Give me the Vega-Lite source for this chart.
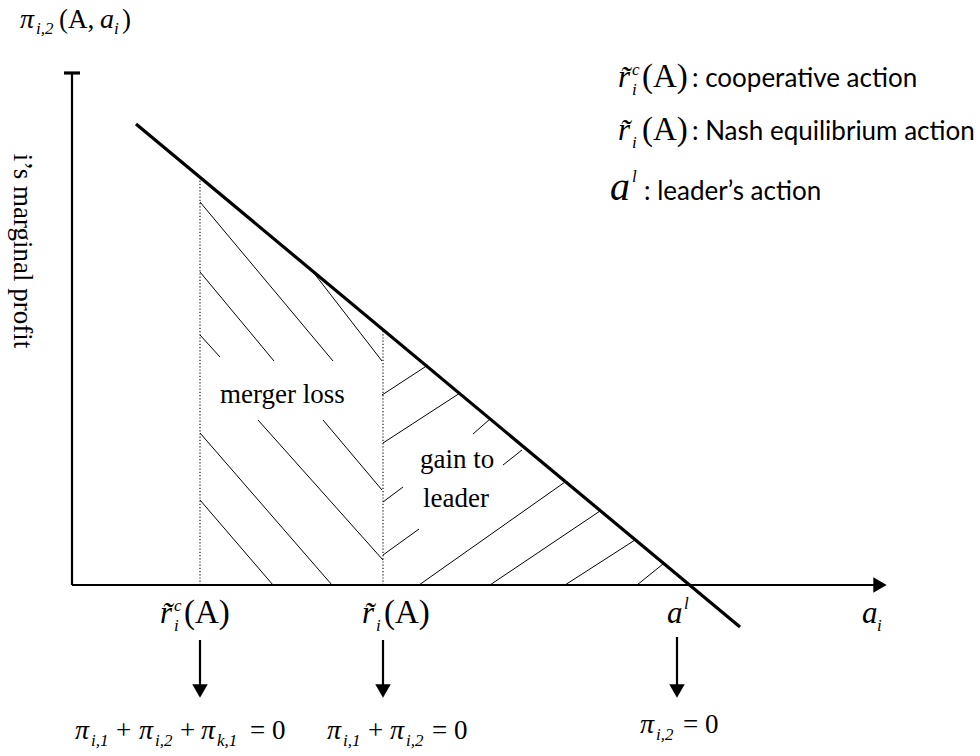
{
  "$schema": "https://vega.github.io/schema/vega-lite/v6.json",
  "width": 980,
  "height": 756,
  "padding": 0,
  "autosize": {"type": "fit", "contains": "padding"},
  "background": "white",
  "config": {"view": {"stroke": null}},
  "datasets": {
    "seg": [
      {"k": "axis", "x": 72, "y": 683, "x2": 72, "y2": 171},
      {"k": "axis", "x": 72, "y": 171, "x2": 878, "y2": 171},
      {"k": "tick", "x": 64, "y": 683, "x2": 80, "y2": 683},
      {"k": "curve", "x": 136, "y": 632, "x2": 740, "y2": 129},
      {"k": "dot", "x": 200, "y": 171, "x2": 200, "y2": 578},
      {"k": "dot", "x": 383, "y": 171, "x2": 383, "y2": 426},
      {"k": "hatch", "x": 310, "y": 488, "x2": 382, "y2": 395},
      {"k": "hatch", "x": 200, "y": 554, "x2": 333, "y2": 395},
      {"k": "hatch", "x": 200, "y": 484, "x2": 274, "y2": 395},
      {"k": "hatch", "x": 323, "y": 336, "x2": 382, "y2": 266},
      {"k": "hatch", "x": 200, "y": 421, "x2": 220, "y2": 399},
      {"k": "hatch", "x": 258, "y": 336, "x2": 383, "y2": 196},
      {"k": "hatch", "x": 200, "y": 323, "x2": 332, "y2": 171},
      {"k": "hatch", "x": 200, "y": 256, "x2": 273, "y2": 171},
      {"k": "hatch", "x": 382, "y": 361, "x2": 428, "y2": 391},
      {"k": "hatch", "x": 383, "y": 313, "x2": 460, "y2": 363},
      {"k": "hatch", "x": 473, "y": 322, "x2": 490, "y2": 337},
      {"k": "hatch", "x": 503, "y": 291, "x2": 522, "y2": 306},
      {"k": "hatch", "x": 383, "y": 254, "x2": 403, "y2": 269},
      {"k": "hatch", "x": 383, "y": 201, "x2": 419, "y2": 227},
      {"k": "hatch", "x": 419, "y": 171, "x2": 565, "y2": 274},
      {"k": "hatch", "x": 490, "y": 171, "x2": 600, "y2": 245},
      {"k": "hatch", "x": 565, "y": 171, "x2": 635, "y2": 216},
      {"k": "hatch", "x": 637, "y": 171, "x2": 663, "y2": 192},
      {"k": "arrow", "x": 200, "y": 116, "x2": 200, "y2": 70},
      {"k": "arrow", "x": 383, "y": 116, "x2": 383, "y2": 70},
      {"k": "arrow", "x": 677, "y": 119, "x2": 677, "y2": 70}
    ],
    "heads": [
      {"d": "right", "x": 880, "y": 171},
      {"d": "down", "x": 200, "y": 65},
      {"d": "down", "x": 383, "y": 65},
      {"d": "down", "x": 677, "y": 65}
    ],
    "txt": [
      {"r": "it", "t": "π", "x": 20, "y": 728},
      {"r": "sub", "t": "i,2", "x": 36, "y": 722},
      {"r": "up", "t": "(A,", "x": 59, "y": 728},
      {"r": "it", "t": "a", "x": 100, "y": 728},
      {"r": "sub", "t": "i", "x": 114, "y": 722},
      {"r": "up", "t": ")", "x": 122, "y": 728},
      {"r": "ylab", "t": "i’s marginal profit", "x": 22, "y": 505},
      {"r": "prose", "t": "merger loss", "x": 220, "y": 353},
      {"r": "prose", "t": "gain to", "x": 420, "y": 288},
      {"r": "prose", "t": "leader", "x": 423, "y": 249},
      {"r": "itL", "t": "r\u0303", "x": 618, "y": 669},
      {"r": "sub", "t": "c", "x": 632, "y": 681},
      {"r": "sub", "t": "i", "x": 632, "y": 661},
      {"r": "upL", "t": "(A)", "x": 642, "y": 669},
      {"r": "sans", "t": ": cooperative action", "x": 692, "y": 669},
      {"r": "itL", "t": "r\u0303", "x": 618, "y": 616},
      {"r": "sub", "t": "i", "x": 632, "y": 608},
      {"r": "upL", "t": "(A)", "x": 642, "y": 616},
      {"r": "sans", "t": ": Nash equilibrium action", "x": 692, "y": 616},
      {"r": "itXL", "t": "a", "x": 610, "y": 556},
      {"r": "sub", "t": "l", "x": 632, "y": 574},
      {"r": "sans", "t": ": leader’s action", "x": 644, "y": 556},
      {"r": "itL", "t": "r\u0303", "x": 160, "y": 133},
      {"r": "sub", "t": "c", "x": 174, "y": 145},
      {"r": "sub", "t": "i", "x": 174, "y": 125},
      {"r": "upL", "t": "(A)", "x": 184, "y": 133},
      {"r": "itL", "t": "r\u0303", "x": 362, "y": 133},
      {"r": "sub", "t": "i", "x": 376, "y": 125},
      {"r": "upL", "t": "(A)", "x": 384, "y": 133},
      {"r": "itL", "t": "a", "x": 667, "y": 133},
      {"r": "sub", "t": "l", "x": 684, "y": 147},
      {"r": "itL", "t": "a", "x": 862, "y": 133},
      {"r": "sub", "t": "i", "x": 877, "y": 125},
      {"r": "it", "t": "π", "x": 75, "y": 17},
      {"r": "sub", "t": "i,1", "x": 91, "y": 10},
      {"r": "up", "t": "+", "x": 116, "y": 17},
      {"r": "it", "t": "π", "x": 139, "y": 17},
      {"r": "sub", "t": "i,2", "x": 155, "y": 10},
      {"r": "up", "t": "+", "x": 180, "y": 17},
      {"r": "it", "t": "π", "x": 201, "y": 17},
      {"r": "sub", "t": "k,1", "x": 217, "y": 10},
      {"r": "up", "t": "= 0", "x": 250, "y": 17},
      {"r": "it", "t": "π", "x": 327, "y": 17},
      {"r": "sub", "t": "i,1", "x": 343, "y": 10},
      {"r": "up", "t": "+", "x": 368, "y": 17},
      {"r": "it", "t": "π", "x": 390, "y": 17},
      {"r": "sub", "t": "i,2", "x": 406, "y": 10},
      {"r": "up", "t": "= 0", "x": 432, "y": 17},
      {"r": "it", "t": "π", "x": 640, "y": 23},
      {"r": "sub", "t": "i,2", "x": 656, "y": 16},
      {"r": "up", "t": "= 0", "x": 683, "y": 23}
    ]
  },
  "layer": [
    {
      "data": {"name": "seg"},
      "transform": [{"filter": "datum.k === 'hatch'"}],
      "mark": {"type": "rule", "color": "black", "strokeWidth": 1},
      "encoding": {
        "x": {"field": "x", "type": "quantitative", "scale": {"domain": [0, 980], "nice": false, "zero": false}, "axis": null},
        "y": {"field": "y", "type": "quantitative", "scale": {"domain": [0, 756], "nice": false, "zero": false}, "axis": null},
        "x2": {"field": "x2"},
        "y2": {"field": "y2"}
      }
    },
    {
      "data": {"name": "seg"},
      "transform": [{"filter": "datum.k === 'dot'"}],
      "mark": {"type": "rule", "color": "black", "strokeWidth": 1.1, "strokeDash": [1.2, 2]},
      "encoding": {
        "x": {"field": "x", "type": "quantitative", "scale": {"domain": [0, 980], "nice": false, "zero": false}, "axis": null},
        "y": {"field": "y", "type": "quantitative", "scale": {"domain": [0, 756], "nice": false, "zero": false}, "axis": null},
        "x2": {"field": "x2"},
        "y2": {"field": "y2"}
      }
    },
    {
      "data": {"name": "seg"},
      "transform": [{"filter": "datum.k === 'axis' || datum.k === 'arrow'"}],
      "mark": {"type": "rule", "color": "black", "strokeWidth": 2.2},
      "encoding": {
        "x": {"field": "x", "type": "quantitative", "scale": {"domain": [0, 980], "nice": false, "zero": false}, "axis": null},
        "y": {"field": "y", "type": "quantitative", "scale": {"domain": [0, 756], "nice": false, "zero": false}, "axis": null},
        "x2": {"field": "x2"},
        "y2": {"field": "y2"}
      }
    },
    {
      "data": {"name": "seg"},
      "transform": [{"filter": "datum.k === 'curve' || datum.k === 'tick'"}],
      "mark": {"type": "rule", "color": "black", "strokeWidth": 3.2},
      "encoding": {
        "x": {"field": "x", "type": "quantitative", "scale": {"domain": [0, 980], "nice": false, "zero": false}, "axis": null},
        "y": {"field": "y", "type": "quantitative", "scale": {"domain": [0, 756], "nice": false, "zero": false}, "axis": null},
        "x2": {"field": "x2"},
        "y2": {"field": "y2"}
      }
    },
    {
      "data": {"name": "heads"},
      "transform": [{"filter": "datum.d === 'right'"}],
      "mark": {"type": "point", "shape": "triangle-right", "filled": true, "color": "black", "size": 240, "opacity": 1},
      "encoding": {
        "x": {"field": "x", "type": "quantitative", "scale": {"domain": [0, 980], "nice": false, "zero": false}, "axis": null},
        "y": {"field": "y", "type": "quantitative", "scale": {"domain": [0, 756], "nice": false, "zero": false}, "axis": null}
      }
    },
    {
      "data": {"name": "heads"},
      "transform": [{"filter": "datum.d === 'down'"}],
      "mark": {"type": "point", "shape": "triangle-down", "filled": true, "color": "black", "size": 240, "opacity": 1},
      "encoding": {
        "x": {"field": "x", "type": "quantitative", "scale": {"domain": [0, 980], "nice": false, "zero": false}, "axis": null},
        "y": {"field": "y", "type": "quantitative", "scale": {"domain": [0, 756], "nice": false, "zero": false}, "axis": null}
      }
    },
    {
      "data": {"name": "txt"},
      "transform": [{"filter": "datum.r === 'it'"}],
      "mark": {"type": "text", "font": "Liberation Serif", "fontStyle": "italic", "fontSize": 28, "align": "left", "baseline": "alphabetic", "color": "black"},
      "encoding": {
        "x": {"field": "x", "type": "quantitative", "scale": {"domain": [0, 980], "nice": false, "zero": false}, "axis": null},
        "y": {"field": "y", "type": "quantitative", "scale": {"domain": [0, 756], "nice": false, "zero": false}, "axis": null},
        "text": {"field": "t"}
      }
    },
    {
      "data": {"name": "txt"},
      "transform": [{"filter": "datum.r === 'up'"}],
      "mark": {"type": "text", "font": "Liberation Serif", "fontSize": 27, "align": "left", "baseline": "alphabetic", "color": "black"},
      "encoding": {
        "x": {"field": "x", "type": "quantitative", "scale": {"domain": [0, 980], "nice": false, "zero": false}, "axis": null},
        "y": {"field": "y", "type": "quantitative", "scale": {"domain": [0, 756], "nice": false, "zero": false}, "axis": null},
        "text": {"field": "t"}
      }
    },
    {
      "data": {"name": "txt"},
      "transform": [{"filter": "datum.r === 'sub'"}],
      "mark": {"type": "text", "font": "Liberation Serif", "fontStyle": "italic", "fontSize": 17, "align": "left", "baseline": "alphabetic", "color": "black"},
      "encoding": {
        "x": {"field": "x", "type": "quantitative", "scale": {"domain": [0, 980], "nice": false, "zero": false}, "axis": null},
        "y": {"field": "y", "type": "quantitative", "scale": {"domain": [0, 756], "nice": false, "zero": false}, "axis": null},
        "text": {"field": "t"}
      }
    },
    {
      "data": {"name": "txt"},
      "transform": [{"filter": "datum.r === 'itL'"}],
      "mark": {"type": "text", "font": "Liberation Serif", "fontStyle": "italic", "fontSize": 31, "align": "left", "baseline": "alphabetic", "color": "black"},
      "encoding": {
        "x": {"field": "x", "type": "quantitative", "scale": {"domain": [0, 980], "nice": false, "zero": false}, "axis": null},
        "y": {"field": "y", "type": "quantitative", "scale": {"domain": [0, 756], "nice": false, "zero": false}, "axis": null},
        "text": {"field": "t"}
      }
    },
    {
      "data": {"name": "txt"},
      "transform": [{"filter": "datum.r === 'itXL'"}],
      "mark": {"type": "text", "font": "Liberation Serif", "fontStyle": "italic", "fontSize": 40, "align": "left", "baseline": "alphabetic", "color": "black"},
      "encoding": {
        "x": {"field": "x", "type": "quantitative", "scale": {"domain": [0, 980], "nice": false, "zero": false}, "axis": null},
        "y": {"field": "y", "type": "quantitative", "scale": {"domain": [0, 756], "nice": false, "zero": false}, "axis": null},
        "text": {"field": "t"}
      }
    },
    {
      "data": {"name": "txt"},
      "transform": [{"filter": "datum.r === 'upL'"}],
      "mark": {"type": "text", "font": "Liberation Serif", "fontSize": 33, "align": "left", "baseline": "alphabetic", "color": "black"},
      "encoding": {
        "x": {"field": "x", "type": "quantitative", "scale": {"domain": [0, 980], "nice": false, "zero": false}, "axis": null},
        "y": {"field": "y", "type": "quantitative", "scale": {"domain": [0, 756], "nice": false, "zero": false}, "axis": null},
        "text": {"field": "t"}
      }
    },
    {
      "data": {"name": "txt"},
      "transform": [{"filter": "datum.r === 'prose'"}],
      "mark": {"type": "text", "font": "Liberation Serif", "fontSize": 27, "align": "left", "baseline": "alphabetic", "color": "black"},
      "encoding": {
        "x": {"field": "x", "type": "quantitative", "scale": {"domain": [0, 980], "nice": false, "zero": false}, "axis": null},
        "y": {"field": "y", "type": "quantitative", "scale": {"domain": [0, 756], "nice": false, "zero": false}, "axis": null},
        "text": {"field": "t"}
      }
    },
    {
      "data": {"name": "txt"},
      "transform": [{"filter": "datum.r === 'ylab'"}],
      "mark": {"type": "text", "font": "Liberation Serif", "fontSize": 27, "angle": 90, "align": "center", "baseline": "middle", "color": "black"},
      "encoding": {
        "x": {"field": "x", "type": "quantitative", "scale": {"domain": [0, 980], "nice": false, "zero": false}, "axis": null},
        "y": {"field": "y", "type": "quantitative", "scale": {"domain": [0, 756], "nice": false, "zero": false}, "axis": null},
        "text": {"field": "t"}
      }
    },
    {
      "data": {"name": "txt"},
      "transform": [{"filter": "datum.r === 'sans'"}],
      "mark": {"type": "text", "font": "Lato", "fontSize": 26, "align": "left", "baseline": "alphabetic", "color": "black"},
      "encoding": {
        "x": {"field": "x", "type": "quantitative", "scale": {"domain": [0, 980], "nice": false, "zero": false}, "axis": null},
        "y": {"field": "y", "type": "quantitative", "scale": {"domain": [0, 756], "nice": false, "zero": false}, "axis": null},
        "text": {"field": "t"}
      }
    }
  ]
}
